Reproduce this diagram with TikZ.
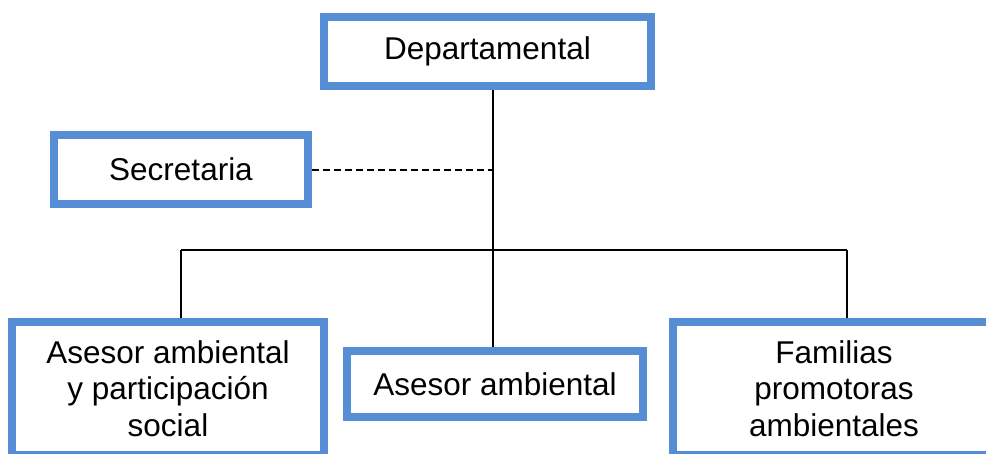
\documentclass[tikz,border=0pt]{standalone}
\usepackage{fontspec}
\setmainfont{Liberation Sans}
\definecolor{azul}{RGB}{85,142,213}
\begin{document}
\begin{tikzpicture}[x=1pt,y=-1pt,
  caja/.style={draw=azul,line width=8pt,fill=white,align=center,inner sep=0pt,font=\fontsize{31.5}{36.5}\selectfont},
  linea/.style={line width=2pt}]
\useasboundingbox (0,0) rectangle (986,453);
\path(487.5,51.5) node[caja,minimum width=327,minimum height=69](Departamental){Departamental} (181,169.5) node[caja,minimum width=254,minimum height=69](Secretaria){Secretaria} (168,388.5) node[caja,minimum width=312,minimum height=133](AsesorSocial){Asesor ambiental\\y participación\\social} (495,384) node[caja,minimum width=296,minimum height=66](Asesor){Asesor ambiental} (834,388.5) node[caja,minimum width=322,minimum height=133](Familias){Familias\\promotoras\\ambientales};

\coordinate (cruce) at (493,250);
\coordinate (izq) at (181,250);
\coordinate (der) at (847,250);

\draw[linea] (Departamental.south -| cruce) -- (Asesor.north -| cruce);
\draw[linea] (izq) -- (der);
\draw[linea] (izq) -- (izq |- AsesorSocial.north);
\draw[linea] (der) -- (der |- Familias.north);
\draw[line width=2pt,dash pattern=on 7pt off 4pt] (Secretaria.east) -- (Secretaria.east -| cruce);
\end{tikzpicture}
\end{document}
